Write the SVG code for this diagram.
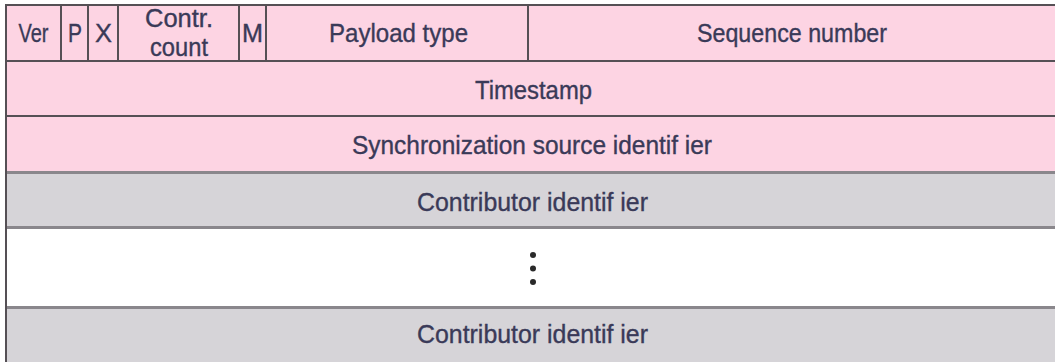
<svg xmlns="http://www.w3.org/2000/svg" width="1055" height="362" viewBox="0 0 1055 362">
  <style>
    .pink { fill: #fdd4e3; }
    .grey { fill: #d6d4d8; }
    .blank { fill: #ffffff; }
    .rule { stroke: #555055; stroke-width: 2; fill: none; }
    .rule-soft { stroke: #8a878c; stroke-width: 3; fill: none; }
    .lbl { font-family: "Liberation Sans", Arial, sans-serif; font-size: 25px; fill: #3a3a58; stroke: #3a3a58; stroke-width: 0.35; text-anchor: middle; }
    .dot { fill: #2a2a2a; }
  </style>

  <!-- RTP header: first row with bit fields -->
  <g id="row-header">
    <rect class="pink" x="6" y="5" width="1049" height="56"/>
    <line class="rule" x1="5" y1="5" x2="1055" y2="5"/>
    <line class="rule" x1="61" y1="5" x2="61" y2="61"/>
    <line class="rule" x1="88" y1="5" x2="88" y2="61"/>
    <line class="rule" x1="118" y1="5" x2="118" y2="61"/>
    <line class="rule" x1="239" y1="5" x2="239" y2="61"/>
    <line class="rule" x1="266" y1="5" x2="266" y2="61"/>
    <line class="rule" x1="528" y1="5" x2="528" y2="61"/>
  </g>
  <g id="field-ver"><text class="lbl" x="33.5" y="42" textLength="30" lengthAdjust="spacingAndGlyphs">Ver</text></g>
  <g id="field-p"><text class="lbl" x="75" y="42" textLength="14" lengthAdjust="spacingAndGlyphs">P</text></g>
  <g id="field-x"><text class="lbl" x="103.5" y="42" textLength="17" lengthAdjust="spacingAndGlyphs">X</text></g>
  <g id="field-cc">
    <text class="lbl" x="179" y="27" textLength="68" lengthAdjust="spacingAndGlyphs">Contr.</text>
    <text class="lbl" x="179" y="56" textLength="58" lengthAdjust="spacingAndGlyphs">count</text>
  </g>
  <g id="field-m"><text class="lbl" x="252.5" y="42" textLength="21" lengthAdjust="spacingAndGlyphs">M</text></g>
  <g id="field-pt"><text class="lbl" x="398.5" y="42" textLength="139" lengthAdjust="spacingAndGlyphs">Payload type</text></g>
  <g id="field-seq"><text class="lbl" x="792" y="42" textLength="190" lengthAdjust="spacingAndGlyphs">Sequence number</text></g>

  <!-- Full-width words -->
  <g id="row-timestamp">
    <rect class="pink" x="6" y="61" width="1049" height="55"/>
    <text class="lbl" x="533.5" y="99" textLength="117" lengthAdjust="spacingAndGlyphs">Timestamp</text>
  </g>
  <g id="row-ssrc">
    <rect class="pink" x="6" y="116" width="1049" height="56"/>
    <text class="lbl" x="532" y="154" textLength="360" lengthAdjust="spacingAndGlyphs">Synchronization source identif ier</text>
  </g>
  <g id="row-csrc-first">
    <rect class="grey" x="6" y="172" width="1049" height="55"/>
    <text class="lbl" x="532.5" y="211" textLength="231" lengthAdjust="spacingAndGlyphs">Contributor identif ier</text>
  </g>
  <g id="row-ellipsis">
    <rect class="blank" x="6" y="227" width="1049" height="80"/>
    <circle class="dot" cx="533" cy="255" r="3"/>
    <circle class="dot" cx="533" cy="268.5" r="3"/>
    <circle class="dot" cx="533" cy="282" r="3"/>
  </g>
  <g id="row-csrc-last">
    <rect class="grey" x="6" y="307" width="1049" height="55"/>
    <text class="lbl" x="532.5" y="343" textLength="231" lengthAdjust="spacingAndGlyphs">Contributor identif ier</text>
  </g>

  <!-- Row separators and frame -->
  <g id="rules">
    <line class="rule" x1="6" y1="61" x2="1055" y2="61"/>
    <line class="rule" x1="6" y1="116" x2="1055" y2="116"/>
    <line class="rule-soft" x1="6" y1="172.5" x2="1055" y2="172.5"/>
    <line class="rule-soft" x1="6" y1="227.5" x2="1055" y2="227.5"/>
    <line class="rule-soft" x1="6" y1="307.5" x2="1055" y2="307.5"/>
    <line class="rule" x1="6" y1="4" x2="6" y2="362"/>
  </g>
</svg>
